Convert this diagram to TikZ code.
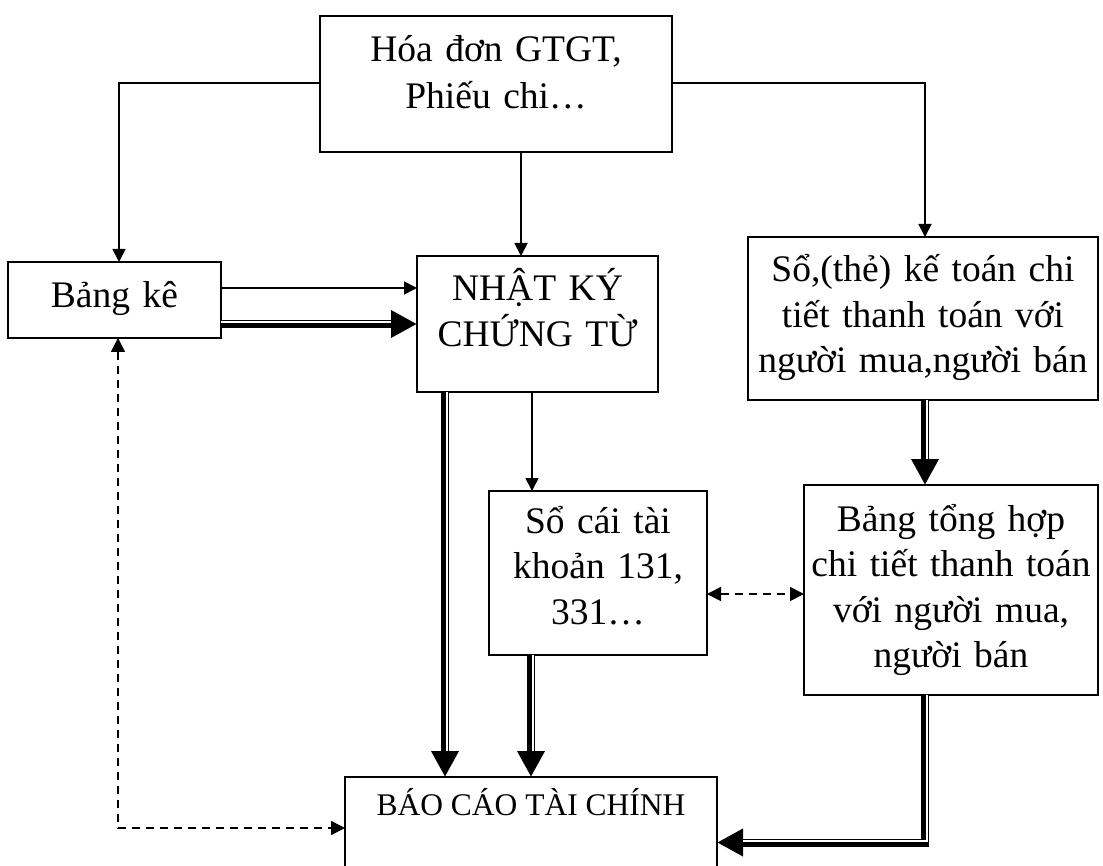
\documentclass[tikz,border=0pt]{standalone}
\usepackage{fontspec}
\setmainfont{Liberation Serif}
\usetikzlibrary{arrows.meta}
\begin{document}
\begin{tikzpicture}[x=1pt,y=-1pt,
  box/.style={draw, line width=2pt, rectangle, inner sep=0pt, outer sep=0pt, anchor=north west},
  txt/.style={inner sep=0pt, text width=#1, align=center, anchor=base,
    font=\fontsize{37.5}{45.5}\selectfont},
  small/.style={inner sep=0pt, anchor=base, font=\fontsize{31.5}{38}\selectfont},
  thinarr/.style={line width=1.8pt, -{Triangle[length=13pt,width=13pt]}},
  dasharr/.style={line width=1.6pt, dash pattern=on 8pt off 6pt,
    {Triangle[length=14pt,width=14pt]}-{Triangle[length=14pt,width=14pt]}},
  dblarr/.style={line width=8pt, -{Triangle[length=26pt,width=26pt]}},
  dblgap/.style={line width=1.5pt, white, shorten >=26pt},
]
\clip (0,0) rectangle (1103,866);

% boxes
\node[box, minimum width=352pt, minimum height=136pt] (src) at (320,16) {};
\node[box, minimum width=213pt, minimum height=76pt]  (bk)  at (8,262) {};
\node[box, minimum width=241pt, minimum height=136pt] (nk)  at (417,256) {};
\node[box, minimum width=350pt, minimum height=163pt] (sct) at (748,237) {};
\node[box, minimum width=218pt, minimum height=164pt] (sc)  at (489,491) {};
\node[box, minimum width=294pt, minimum height=210pt] (th)  at (804,485) {};
\node[box, minimum width=372pt, minimum height=130pt] (bc)  at (345,777) {};

% texts
\node[txt=340pt, font=\fontsize{37.5}{47}\selectfont] (srcT) at (496,62) {Hóa đơn GTGT,\\Phiếu chi…};
\node[txt=200pt] (bkT)  at (114.5,308) {Bảng kê};
\node[txt=235pt, font=\fontsize{37.5}{46}\selectfont] (nkT) at (537.5,301) {NHẬT KÝ\\CHỨNG TỪ};
\node[txt=345pt] (sctT) at (923,282) {Sổ,(thẻ) kế toán chi\\tiết thanh toán với\\người mua,người bán};
\node[txt=214pt] (scT)  at (598,533) {Sổ cái tài\\khoản 131,\\331…};
\node[txt=290pt] (thT)  at (951,531) {Bảng tổng hợp\\chi tiết thanh toán\\với người mua,\\người bán};
\node[small] (bcT) at (531,815) {BÁO CÁO TÀI CHÍNH};

% single-line connectors
\draw[thinarr] (src.west |- 0,83) -| (bk.north -| 119,0);
\draw[thinarr] (src.east |- 0,83) -| (sct.north -| 925,0);
\draw[thinarr] (src.south -| 521,0) -- (nk.north -| 521,0);
\draw[thinarr] (bk.east |- 0,288) -- (nk.west |- 0,288);
\draw[thinarr] (nk.south -| 532,0) -- (sc.north -| 532,0);

% thick-thin connectors
\draw[dblarr] (bk.east |- 0,324) -- (nk.west |- 0,324);
\draw[dblgap, yshift=1.75pt] (bk.east |- 0,324) -- (nk.west |- 0,324);

\draw[dblarr] (nk.south -| 445,0) -- (bc.north -| 445,0);
\draw[dblgap, xshift=1.75pt] (nk.south -| 445,0) -- (bc.north -| 445,0);

\draw[dblarr] (sc.south -| 531,0) -- (bc.north -| 531,0);
\draw[dblgap, xshift=1.75pt] (sc.south -| 531,0) -- (bc.north -| 531,0);

\draw[dblarr] (sct.south -| 925,0) -- (th.north -| 925,0);
\draw[dblgap, xshift=1.75pt] (sct.south -| 925,0) -- (th.north -| 925,0);

\draw[dblarr] (th.south -| 925,0) |- (bc.east |- 0,842.5);
\draw[dblgap, xshift=1.75pt, yshift=1.75pt] (th.south -| 925,0) |- (bc.east |- 0,842.5);

% dashed two-way connectors
\draw[dasharr] (sc.east |- 0,594) -- (th.west |- 0,594);
\draw[dasharr] (bk.south -| 118,0) |- (bc.west |- 0,828);
\end{tikzpicture}
\end{document}
